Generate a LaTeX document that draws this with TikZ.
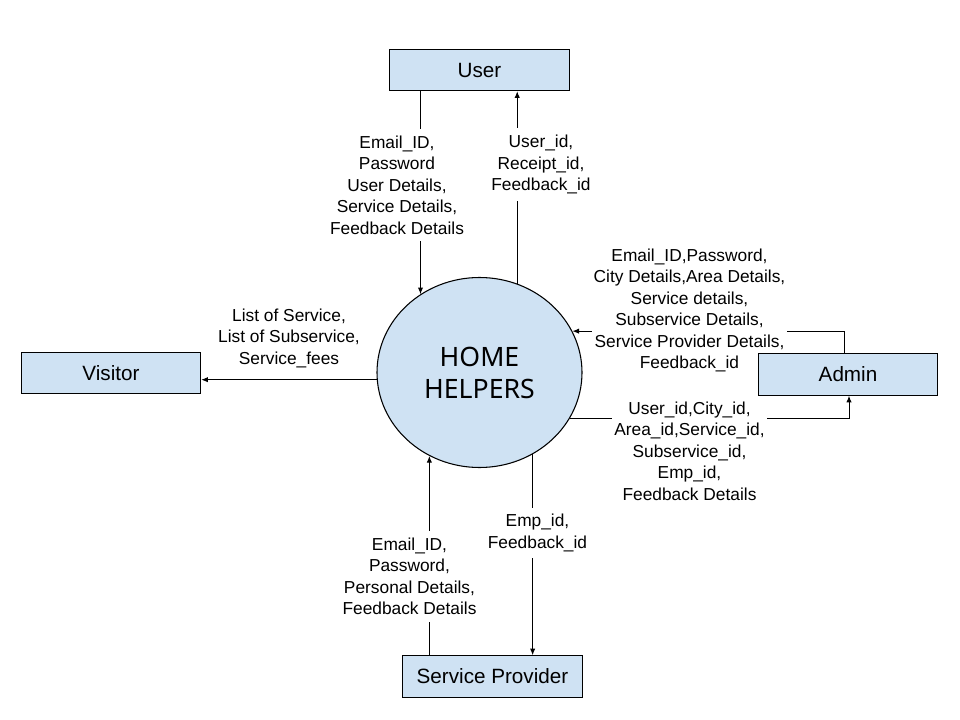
\documentclass[tikz,border=0pt]{standalone}
\usepackage{fontspec}
\setmainfont{Liberation Sans}
\newfontfamily\hhfont{Noto Sans}
\usetikzlibrary{arrows.meta,shapes.geometric}
\definecolor{boxblue}{HTML}{CFE2F3}
\pgfdeclarelayer{bg}
\pgfdeclarelayer{lines}
\pgfdeclarelayer{labels}
\pgfsetlayers{bg,lines,labels,main}
\begin{document}
\begin{tikzpicture}[x=0.75pt,y=-0.75pt,
  entity/.style={draw=black,line width=0.8pt,fill=boxblue,minimum width=134.5pt,minimum height=31pt,inner sep=0pt,font=\fontsize{15.5}{18}\selectfont},
  flowlabel/.style={fill=white,align=center,inner xsep=1.5pt,inner ysep=5pt,font=\fontsize{13}{16.1}\selectfont},
  flow/.style={line width=0.75pt,-{Latex[length=5pt,width=4pt]}}]
\begin{pgfonlayer}{bg}
\fill[white] (0,0) rectangle (960,720);
\end{pgfonlayer}
\useasboundingbox (0,0) rectangle (960,720);

% process
\node[ellipse,draw=black,line width=0.8pt,fill=boxblue,minimum width=153.75pt,minimum height=142.5pt,inner sep=0pt,align=center,font=\hhfont\fontsize{20}{24}\selectfont] (hh) at (479.5,372.5) {HOME\\HELPERS};

% entities
\node[entity] (user) at (479.5,70) {User};
\node[entity] (visitor) at (111,373) {Visitor};
\node[entity] (admin) at (848,374.5) {Admin};
\node[entity] (sp) at (492.5,676.5) {Service Provider};

% connectors
\begin{pgfonlayer}{lines}
\draw[flow] (user.south -| hh.127.5) -- (hh.127.5);
\draw[flow] (hh.67.04) -- (user.south -| hh.67.04);
\draw[flow] (hh.184.76) -- (visitor.east |- hh.184.76);
\draw[flow] ([xshift=-2.5pt]admin.north) |- (hh.24.9);
\draw[flow] (hh.-27.45) -| ([xshift=0.75pt]admin.south);
\draw[flow] (sp.north -| hh.239.85) -- (hh.239.85);
\draw[flow] (hh.-57.9) -- (sp.north -| hh.-57.9);
\end{pgfonlayer}

% labels
\begin{pgfonlayer}{labels}
\node[flowlabel] (l1) at (397,185) {Email\_ID,\\Password\\User Details,\\Service Details,\\Feedback Details};
\node[flowlabel] (l2) at (541,164.5) {User\_id,\\Receipt\_id,\\Feedback\_id};
\node[flowlabel] (l3) at (289,338) {List of Service,\\List of Subservice,\\Service\_fees};
\node[flowlabel] (l4) at (689.5,310.5) {Email\_ID,Password,\\City Details,Area Details,\\Service details,\\Subservice Details,\\Service Provider Details,\\Feedback\_id};
\node[flowlabel] (l5) at (689.5,451) {User\_id,City\_id,\\Area\_id,Service\_id,\\Subservice\_id,\\Emp\_id,\\Feedback Details};
\node[flowlabel] (l6) at (409.5,576.5) {Email\_ID,\\Password,\\Personal Details,\\Feedback Details};
\node[flowlabel] (l7) at (537.5,533) {Emp\_id,\\Feedback\_id};
\end{pgfonlayer}
\end{tikzpicture}
\end{document}
